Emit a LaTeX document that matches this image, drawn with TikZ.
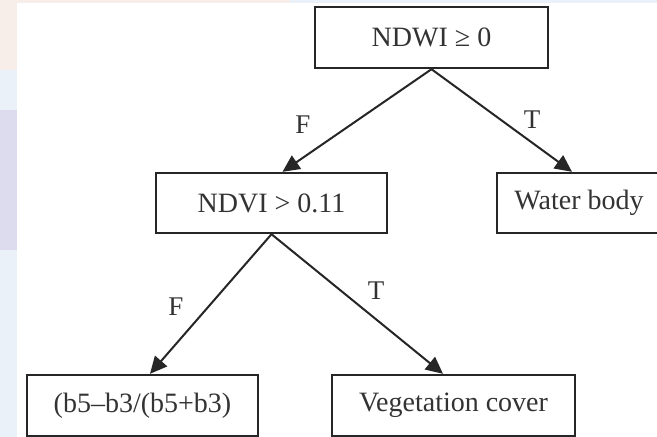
\documentclass[tikz,border=0pt]{standalone}
\usepackage{fontspec}
\setmainfont{Liberation Serif}
\usetikzlibrary{arrows.meta}
\definecolor{txtgray}{HTML}{333333}
\definecolor{stripblue}{HTML}{EAF1F9}
\definecolor{striplav}{HTML}{DDDBEE}
\definecolor{strippeach}{HTML}{F8EEE9}
\tikzset{
  box/.style={draw=black!85, line width=2.4pt, fill=white, inner sep=0pt,
    text=txtgray, font=\fontsize{28}{30}\selectfont},
  arr/.style={draw=black!85, line width=2pt, -{Triangle[length=17pt,width=16pt]}},
  lbl/.style={text=txtgray, font=\fontsize{27}{28}\selectfont, inner sep=0pt}
}
\begin{document}
\begin{tikzpicture}[x=1pt,y=-1pt]
\useasboundingbox (0,0) rectangle (657,437);
\clip (0,0) rectangle (657,437);
% background
\fill[white] (0,0) rectangle (657,437);
\fill[stripblue] (0,0) rectangle (17,437);
\fill[strippeach] (0,0) rectangle (17,70);
\fill[striplav] (0,110) rectangle (17,250);
\fill[strippeach] (17,0) rectangle (290,3);
\fill[stripblue] (290,0) rectangle (657,3);
% nodes
\node[box, minimum width=233pt, minimum height=61pt] (ndwi) at (431.5,37.5) {NDWI ≥ 0};
\node[box, minimum width=231pt, minimum height=60pt] (ndvi) at (271.5,203) {NDVI > 0.11};
\node[box, minimum width=164pt, minimum height=60pt] (water) at (579,203) {Water body};
\node[box, minimum width=231pt, minimum height=61pt] (ratio) at (142.5,405.5) {(b5–b3/(b5+b3)};
\node[box, minimum width=243pt, minimum height=61pt] (veg) at (453.5,405.5) {Vegetation cover};
% connectors
\draw[arr] (ndwi.south) -- ([xshift=11pt]ndvi.north);
\draw[arr] (ndwi.south) -- ([xshift=-7pt]water.north);
\draw[arr] (ndvi.south) -- ([xshift=7.5pt]ratio.north);
\draw[arr] (ndvi.south) -- ([xshift=-10.5pt]veg.north);
% labels
\node[lbl] (lf1) at (303,125) {F};
\node[lbl] (lt1) at (532,120) {T};
\node[lbl] (lf2) at (176,307) {F};
\node[lbl] (lt2) at (376,291) {T};
\end{tikzpicture}
\end{document}
